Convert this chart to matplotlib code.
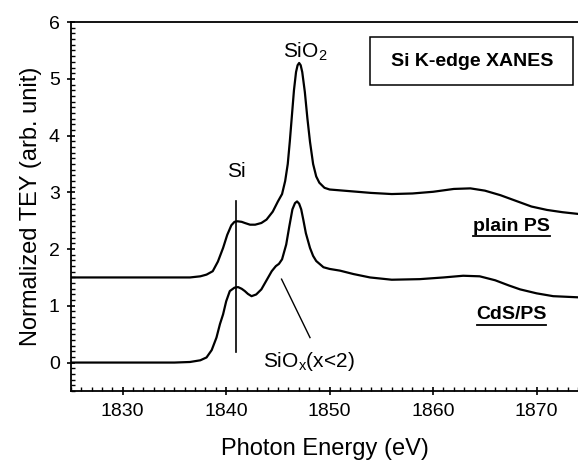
import matplotlib
matplotlib.use("Agg")
import matplotlib.pyplot as plt
from matplotlib.ticker import MultipleLocator
from matplotlib.patches import Rectangle

plt.rcParams['font.family'] = ['Liberation Sans', 'DejaVu Sans']

# plain PS spectrum (upper)
plain_e = [1825, 1830, 1835, 1836.5, 1837.5, 1838.1, 1838.7, 1839.2, 1839.7, 1840.1,
           1840.5, 1840.8, 1841.1, 1841.5, 1841.8, 1842.3, 1842.8, 1843.4, 1843.9,
           1844.5, 1845.0, 1845.4, 1845.7, 1845.95, 1846.15, 1846.35, 1846.55, 1846.75,
           1846.9, 1847.05, 1847.2, 1847.35, 1847.6, 1847.85, 1848.1, 1848.4, 1848.7,
           1849.0, 1849.5, 1850.0, 1852.0, 1854, 1856, 1858, 1860, 1862, 1863.6, 1865,
           1866.5, 1868, 1869.5, 1871, 1872.5, 1874]
plain_v = [1.50, 1.50, 1.50, 1.50, 1.52, 1.55, 1.61, 1.78, 2.02, 2.25,
           2.42, 2.48, 2.49, 2.48, 2.46, 2.43, 2.43, 2.46, 2.52,
           2.66, 2.84, 2.97, 3.20, 3.50, 3.90, 4.35, 4.80, 5.12,
           5.24, 5.28, 5.24, 5.12, 4.77, 4.30, 3.89, 3.50, 3.28,
           3.17, 3.08, 3.05, 3.02, 2.99, 2.97, 2.98, 3.01, 3.06, 3.07, 3.03,
           2.95, 2.85, 2.75, 2.69, 2.65, 2.62]

# CdS/PS spectrum (lower)
cds_e = [1825, 1830, 1835, 1836.5, 1837.5, 1838.1, 1838.6, 1839.06, 1839.4, 1839.7,
         1840.0, 1840.35, 1840.8, 1841.15, 1841.5, 1841.8, 1842.1, 1842.45, 1842.9,
         1843.4, 1843.9, 1844.4, 1844.8, 1845.1, 1845.4, 1845.8, 1846.1, 1846.4,
         1846.65, 1846.85, 1847.05, 1847.25, 1847.45, 1847.7, 1848.1, 1848.4, 1848.7,
         1849.4, 1850.0, 1851.0, 1852.3, 1853.9, 1856, 1858.7, 1861, 1862.9, 1864.5,
         1866, 1867.3, 1868.4, 1870, 1871.6, 1874]
cds_v = [0.00, 0.00, 0.00, 0.01, 0.04, 0.09, 0.22, 0.44, 0.68, 0.85,
         1.08, 1.26, 1.32, 1.33, 1.30, 1.26, 1.21, 1.17, 1.20,
         1.29, 1.45, 1.61, 1.70, 1.74, 1.82, 2.08, 2.40, 2.70,
         2.81, 2.84, 2.80, 2.70, 2.52, 2.28, 2.02, 1.88, 1.79,
         1.68, 1.65, 1.62, 1.56, 1.50, 1.46, 1.47, 1.50, 1.53, 1.52,
         1.45, 1.36, 1.29, 1.22, 1.17, 1.15]

x_ticks = [1830, 1840, 1850, 1860, 1870]
y_ticks = [0, 1, 2, 3, 4, 5, 6]

fig = plt.figure(figsize=(5.78, 4.61), dpi=100)
ax = fig.add_axes([0.1228, 0.152, 0.8772, 0.8])

ax.plot(plain_e, plain_v, color='black', lw=1.6, solid_joinstyle='round')
ax.plot(cds_e, cds_v, color='black', lw=1.6, solid_joinstyle='round')

# marker lines
ax.plot([1840.9, 1840.9], [0.18, 2.84], color='black', lw=1.2)
ax.plot([1845.35, 1848.1], [1.47, 0.44], color='black', lw=1.0)

ax.text(1841.0, 3.37, 'Si', fontsize=15, ha='center', va='center')
ax.text(1847.6, 5.47, r'SiO$_\mathregular{2}$', fontsize=15, ha='center', va='center')
ax.text(1848.0, 0.02, r'SiO$_\mathregular{x}$(x<2)', fontsize=15, ha='center', va='center')

ax.text(1867.6, 2.40, 'plain PS', fontsize=14, fontweight='bold',
        ha='center', va='center')
ax.text(1867.6, 0.84, 'CdS/PS', fontsize=14, fontweight='bold',
        ha='center', va='center')
# underlines
ax.plot([1863.9, 1871.3], [2.225, 2.225], color='black', lw=1.3)
ax.plot([1864.2, 1870.9], [0.665, 0.665], color='black', lw=1.3)

ax.add_patch(Rectangle((0.590, 0.829), 0.400, 0.130, transform=ax.transAxes,
                       fc='white', ec='black', lw=1.1, zorder=3))
ax.text(0.791, 0.894, 'Si K-edge XANES', transform=ax.transAxes, fontsize=14,
        fontweight='bold', ha='center', va='center', zorder=4)

ax.set_xlim(1825, 1874.0)
ax.set_ylim(-0.5, 6)
ax.set_xticks(x_ticks)
ax.set_yticks(y_ticks)
ax.xaxis.set_minor_locator(MultipleLocator(1))
ax.yaxis.set_minor_locator(MultipleLocator(0.1))
ax.tick_params(which='major', direction='inout', length=6, width=1.2, labelsize=14)
ax.tick_params(which='minor', direction='in', length=3, width=1.0)
ax.tick_params(axis='x', pad=6)
ax.tick_params(axis='y', pad=5)
ax.spines['right'].set_visible(False)
for s in ['left', 'bottom', 'top']:
    ax.spines[s].set_linewidth(1.3)

ax.set_xlabel('Photon Energy (eV)', fontsize=17, labelpad=13)
ax.set_ylabel('Normalized TEY (arb. unit)', fontsize=17, labelpad=5)

fig.savefig('out.png', dpi=100)
